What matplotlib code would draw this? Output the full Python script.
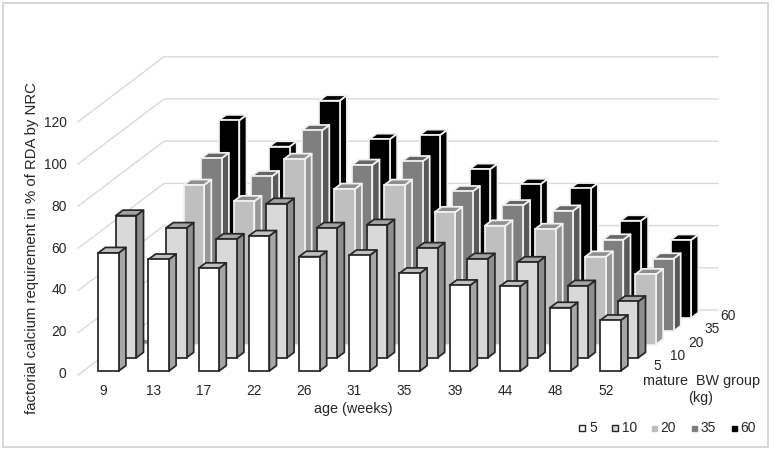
import numpy as np
import matplotlib
matplotlib.use("Agg")
import matplotlib.pyplot as plt
from matplotlib.patches import Polygon, Rectangle
from matplotlib.transforms import Affine2D

plt.rcParams['font.family'] = ['Liberation Sans', 'DejaVu Sans']

ages = ['9', '13', '17', '22', '26', '31', '35', '39', '44', '48', '52']
groups = ['5', '10', '20', '35', '60']
y_ticks = [0, 20, 40, 60, 80, 100, 120]
nan = float('nan')

bw5 = [56.0, 52.9, 48.7, 64.0, 54.2, 54.8, 46.3, 40.6, 40.1, 30.0, 24.0]
bw10 = [67.4, 61.5, 56.2, 73.0, 61.5, 63.0, 52.0, 46.9, 45.3, 34.1, 26.7]
bw20 = [0.0, 75.6, 67.9, 87.9, 73.7, 75.6, 62.7, 56.3, 54.7, 41.6, 33.3]
bw35 = [nan, 82.0, 73.4, 95.2, 78.8, 80.5, 66.3, 59.6, 57.1, 43.4, 34.4]
bw60 = [nan, 93.7, 81.2, 103.0, 84.8, 86.7, 70.6, 63.4, 61.4, 46.1, 37.0]
series = [bw5, bw10, bw20, bw35, bw60]

face_cols = ['#ffffff', '#d9d9d9', '#bfbfbf', '#7f7f7f', '#000000']
side_cols = ['#a6a6a6', '#8e8e8e', '#979797', '#595959', '#000000']
top_cols = ['#c0c0c0', '#a3a3a3', '#8f8f8f', '#666666', '#000000']
edge_cols = ['#262626', '#262626', '#f2f2f2', '#f2f2f2', '#f2f2f2']

W, H = 773, 451
CAT_PX, LEFT_PX, BASE_PX, UNIT_PX = 50.2, 98.2, 371.0, 2.11
BAR_PX, SDX_PX, SDY_PX = 20.5, 17.6, 13.25
DX_PX, DY_PX = 7.2, 5.4

fig = plt.figure(figsize=(W / 100, H / 100), dpi=100, facecolor='white')
ax = fig.add_axes([0, 0, 1, 1])
ax.set_xlim(-LEFT_PX / CAT_PX, (W - LEFT_PX) / CAT_PX)
ax.set_ylim((BASE_PX - H) / UNIT_PX, BASE_PX / UNIT_PX)
ax.axis('off')

PX = Affine2D().scale(1, -1).translate(0, H)   # image pixels -> display

# chart frame
ax.add_patch(Rectangle((2.8, 2.8), 765.2, 444.2, transform=PX, fill=False,
                       ec='#d4d4d4', lw=1.3, zorder=0))

# wall gridlines
for i, t in enumerate(y_ticks):
    back = 310 - t * 2.11
    front = 375 - t * 2.11
    ax.plot([78, 164, 718], [front, back, back], transform=PX, color='#d9d9d9',
            lw=1.0, zorder=1, solid_joinstyle='miter')

# bars, back to front
dw = BAR_PX / CAT_PX
ddx = DX_PX / CAT_PX
ddy = DY_PX / UNIT_PX
z = 2
for s in range(len(groups) - 1, -1, -1):
    x0 = np.arange(len(ages)) + s * SDX_PX / CAT_PX
    y0 = s * SDY_PX / UNIT_PX
    vals = np.array(series[s], dtype=float)
    for x, v in zip(x0, vals):
        if np.isnan(v):
            continue
        ec, lw = edge_cols[s], 1.25
        ax.add_patch(Polygon([(x + dw, y0), (x + dw + ddx, y0 + ddy),
                              (x + dw + ddx, y0 + ddy + v), (x + dw, y0 + v)],
                             closed=True, fc=side_cols[s], ec=ec, lw=lw, zorder=z,
                             joinstyle='round'))
        ax.add_patch(Polygon([(x, y0 + v), (x + dw, y0 + v),
                              (x + dw + ddx, y0 + v + ddy), (x + ddx, y0 + v + ddy)],
                             closed=True, fc=top_cols[s], ec=ec, lw=lw, zorder=z,
                             joinstyle='round'))
        ax.bar(x, v, width=dw, bottom=y0, align='edge', color=face_cols[s],
               edgecolor=ec, linewidth=lw, zorder=z)
        z += 1

TXT = dict(transform=PX, color='#262626', zorder=500, ha='center', va='center')
FS = 9.9

# y tick labels
for i, t in enumerate(y_ticks):
    ax.text(66.5, 374.3 - i * 41.93, str(t), fontsize=FS, **{**TXT, 'ha': 'right'})

# x tick labels
for i, a in enumerate(ages):
    ax.text(103 + i * 50.27, 390.7, a, fontsize=FS, **TXT)

# depth-axis labels
depth_xy = [(657, 366.3), (678, 355.7), (695.7, 342.7), (712.3, 329.3), (728, 316)]
for g, (px, py) in zip(groups, depth_xy):
    ax.text(px, py, g, fontsize=FS, **TXT)

# axis titles
ax.text(32.5, 248, 'factorial calcium requirement in % of RDA by NRC', fontsize=10.7,
        rotation=90, **TXT)
ax.text(353.5, 409, 'age (weeks)', fontsize=10.4, **TXT)
ax.text(701.5, 381, 'mature  BW group', fontsize=10.4, **TXT)
ax.text(701, 397.7, '(kg)', fontsize=10.4, **TXT)

# legend
leg_x = [(579, 589), (611.5, 621.7), (652, 660.7), (692, 700.7), (731.5, 740)]
leg_size = [6, 6, 5, 5, 5]
for s, (g, (mx, tx)) in enumerate(zip(groups, leg_x)):
    sz = leg_size[s]
    ec = '#262626' if s < 2 else face_cols[s]
    ax.add_patch(Rectangle((mx, 428 - sz / 2), sz, sz, transform=PX,
                           fc=face_cols[s], ec=ec, lw=1.0, zorder=500))
    ax.text(tx, 428, g, fontsize=FS, **{**TXT, 'ha': 'left'})

fig.savefig('out.png', dpi=100, facecolor='white')
